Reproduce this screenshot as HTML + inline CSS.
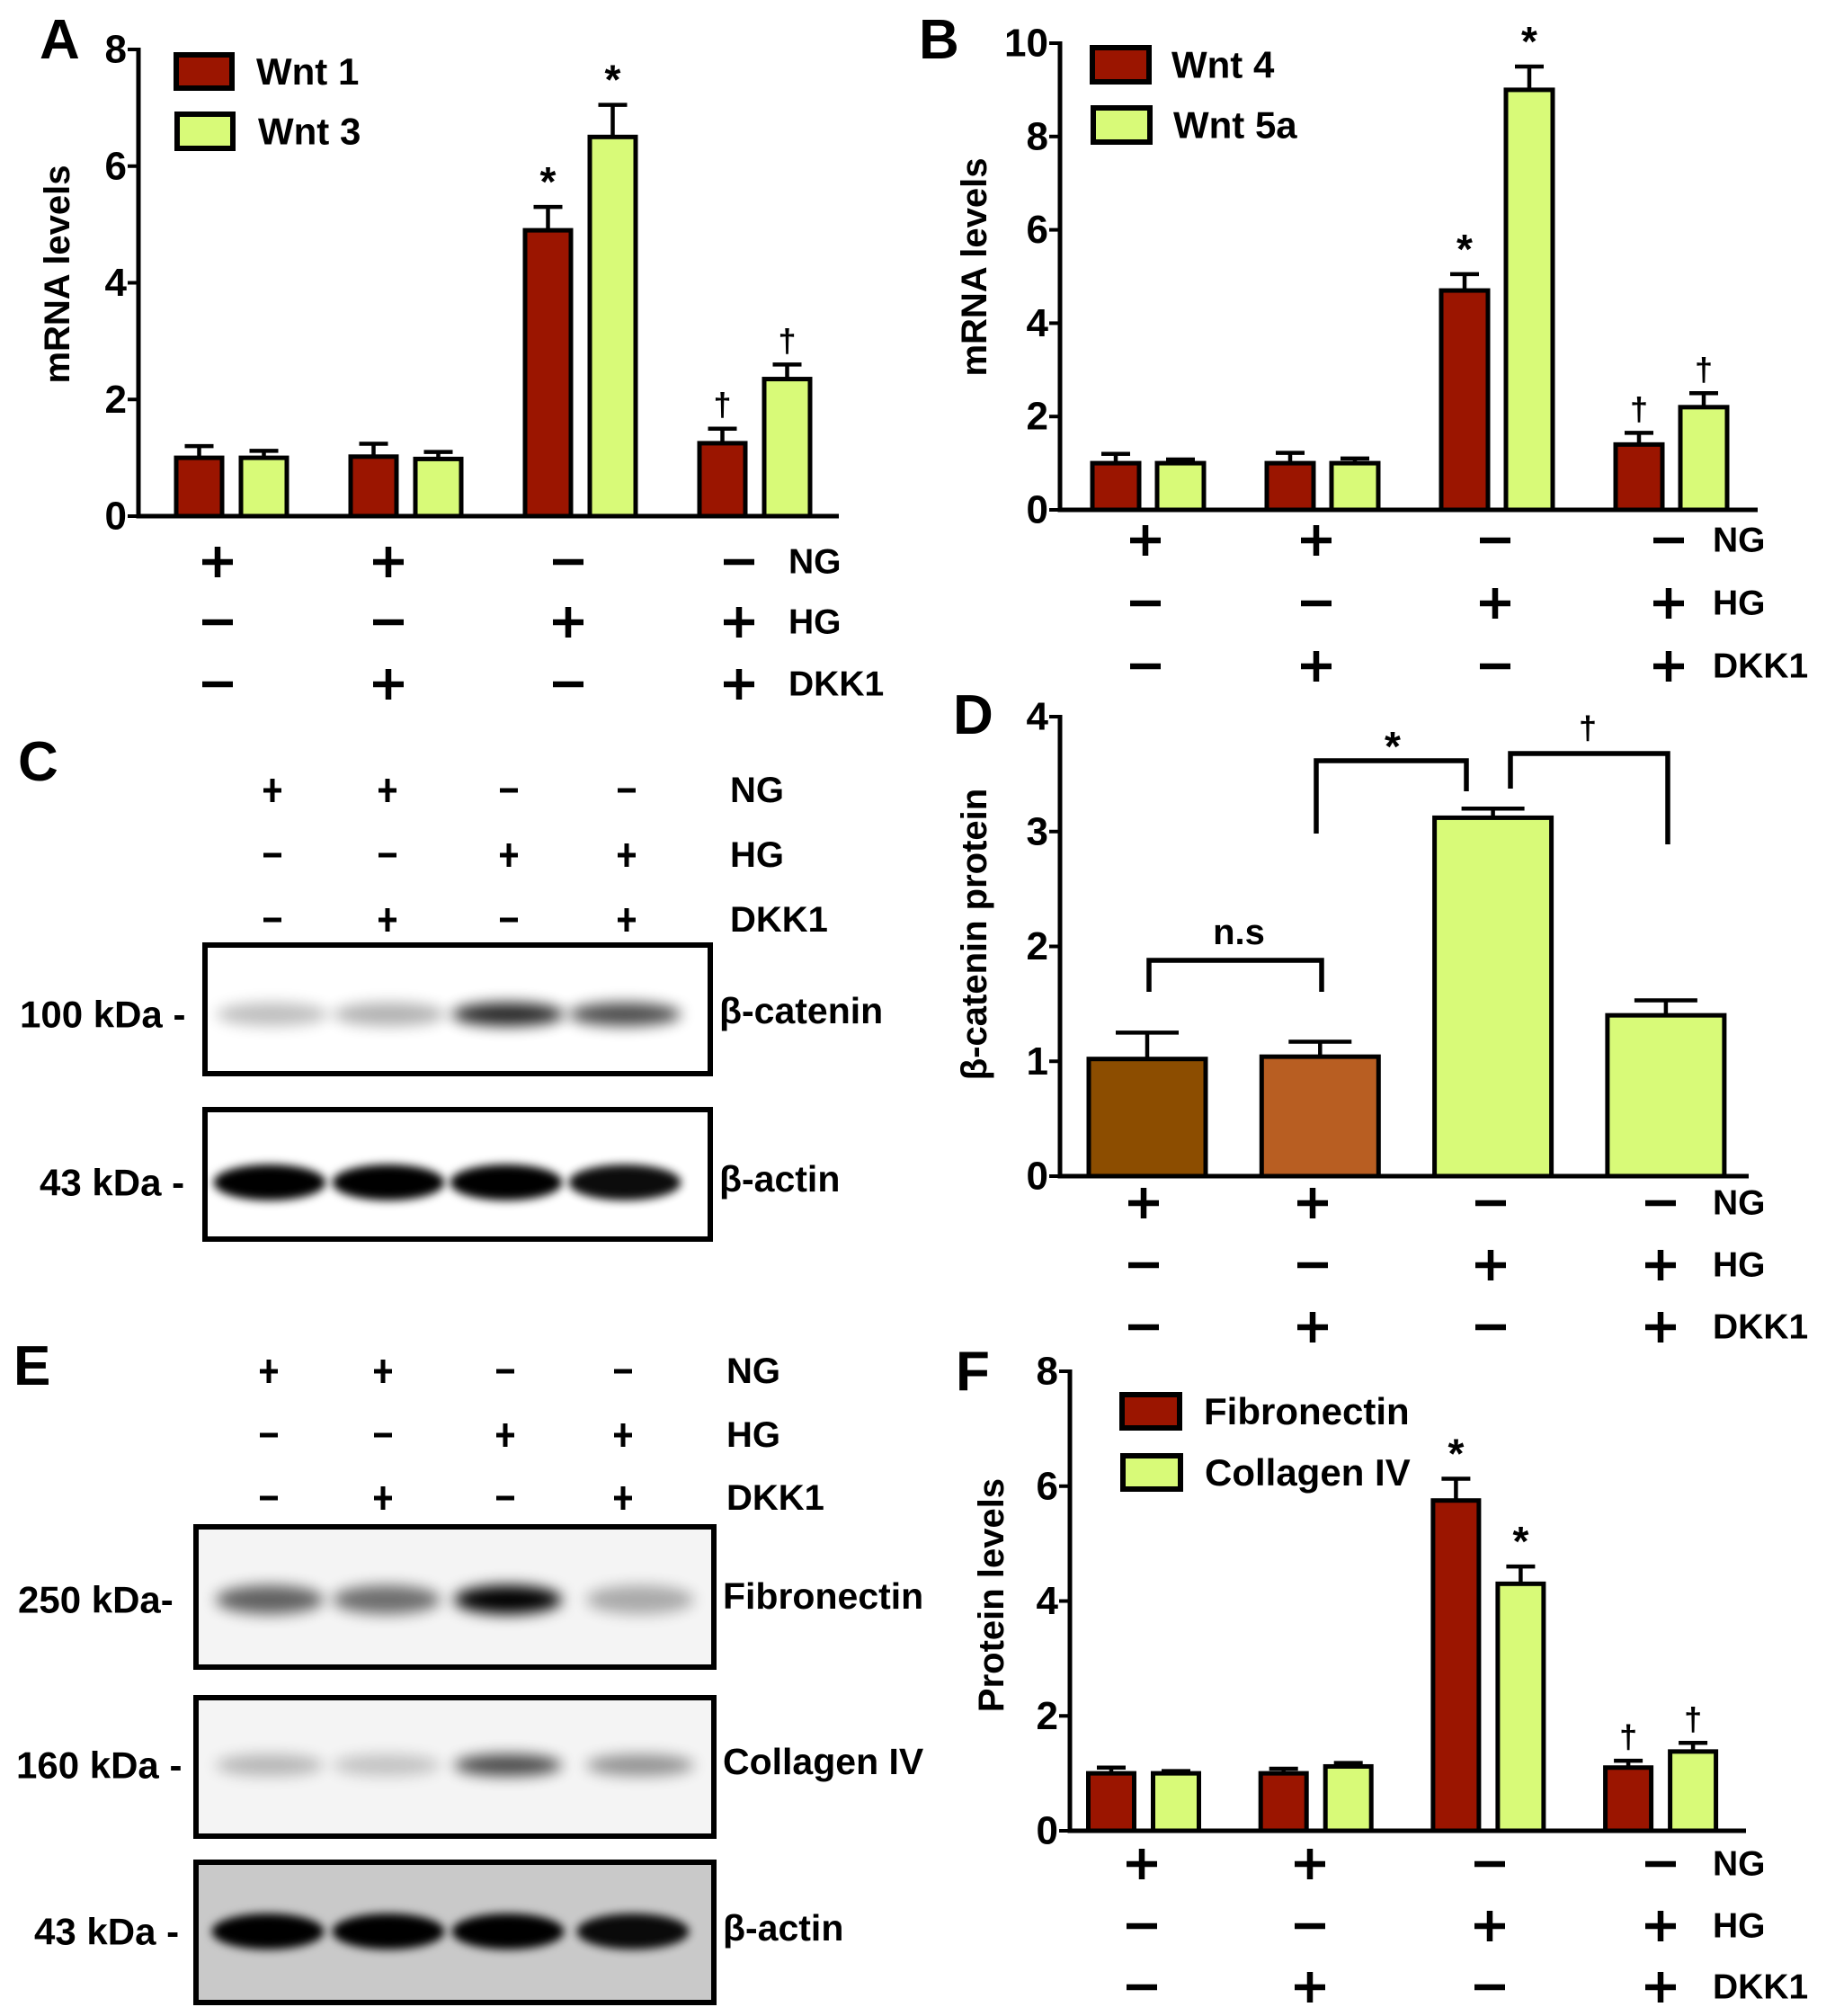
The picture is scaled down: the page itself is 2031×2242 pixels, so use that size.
<!DOCTYPE html>
<html><head><meta charset="utf-8">
<style>
html,body{margin:0;padding:0;background:#fff;}
svg{display:block;font-family:"Liberation Sans",Arial,sans-serif;font-weight:bold;}
</style></head>
<body>
<svg id="fig" width="2031" height="2242" viewBox="0 0 2031 2242" xmlns="http://www.w3.org/2000/svg">
<defs>
<filter id="blur8" x="-50%" y="-100%" width="200%" height="300%"><feGaussianBlur stdDeviation="8"/></filter>
<filter id="blur5" x="-50%" y="-100%" width="200%" height="300%"><feGaussianBlur stdDeviation="5"/></filter>
</defs>
</svg>
<script>
// ---------- DATA ----------
const groupsAll = ["NG", "NG+DKK1", "HG", "HG+DKK1"];
const rowNames = ["NG", "HG", "DKK1"];
const rowNG = ["+", "+", "-", "-"];
const rowHG = ["-", "-", "+", "+"];
const rowDKK = ["-", "+", "-", "+"];

const ticksA = [0, 2, 4, 6, 8];
const wnt1 = [1.0, 1.02, 4.9, 1.25];
const wnt1Err = [0.2, 0.22, 0.4, 0.25];
const wnt1Mark = ["", "", "*", "†"];
const wnt3 = [1.0, 0.98, 6.5, 2.35];
const wnt3Err = [0.12, 0.12, 0.55, 0.25];
const wnt3Mark = ["", "", "*", "†"];

const ticksB = [0, 2, 4, 6, 8, 10];
const wnt4 = [1.0, 1.0, 4.7, 1.4];
const wnt4Err = [0.2, 0.22, 0.35, 0.25];
const wnt4Mark = ["", "", "*", "†"];
const wnt5a = [1.0, 1.0, 9.0, 2.2];
const wnt5aErr = [0.08, 0.1, 0.5, 0.3];
const wnt5aMark = ["", "", "*", "†"];

const ticksD = [0, 1, 2, 3, 4];
const bcat = [1.02, 1.04, 3.12, 1.4];
const bcatErr = [0.23, 0.13, 0.08, 0.13];

const ticksF = [0, 2, 4, 6, 8];
const fib = [1.0, 1.0, 5.75, 1.1];
const fibErr = [0.1, 0.08, 0.38, 0.12];
const fibMark = ["", "", "*", "†"];
const col4 = [1.0, 1.12, 4.3, 1.38];
const col4Err = [0.04, 0.06, 0.3, 0.15];
const col4Mark = ["", "", "*", "†"];

const bandC_bcat = [0.25, 0.3, 0.85, 0.7];
const bandC_actin = [1, 1, 1, 0.95];
const bandE_fib = [0.6, 0.55, 1, 0.3];
const bandE_col = [0.25, 0.2, 0.7, 0.4];
const bandE_actin = [1, 1, 1, 0.95];

// ---------- HELPERS ----------
const NS = "http://www.w3.org/2000/svg";
const svg = document.getElementById("fig");
function mk(tag, attrs, parent, txt) {
  const e = document.createElementNS(NS, tag);
  for (const k in attrs) e.setAttribute(k, attrs[k]);
  if (txt !== undefined) e.textContent = txt;
  (parent || svg).appendChild(e);
  return e;
}
function grp(name) {
  const g = mk("g", {});
  
  
  return g;
}
const RED = "#9b1500", GREEN = "#d8fa78";

function symbol(g, kind, x, y) {
  const s = 17, w = 6.5;
  mk("line", {x1: x - s, y1: y, x2: x + s, y2: y, stroke: "#000", "stroke-width": w}, g);
  if (kind === "+") mk("line", {x1: x, y1: y - s, x2: x, y2: y + s, stroke: "#000", "stroke-width": w}, g);
}

function condRows(name, xs, ys, labelX, size) {
  const g = grp(name);
  const rows = [rowNG, rowHG, rowDKK];
  rows.forEach((row, r) => {
    row.forEach((k, i) => symbol(g, k, xs[i], ys[r]));
    const t = mk("text", {x: labelX, y: ys[r], "font-size": size || 39, "dominant-baseline": "central"}, g, rowNames[r]);
    
    
  });
}

function barChart(c) {
  const g = grp(c.name);
  const yS = v => c.yZero - (v / c.vmax) * (c.yZero - c.yTop);
  const ya = mk("line", {x1: c.x0, y1: c.yTop - 2, x2: c.x0, y2: c.yZero + 2.5, stroke: "#000", "stroke-width": 5}, g);
   
  c.ticks.forEach(t => {
    mk("line", {x1: c.x0 - 12, y1: yS(t), x2: c.x0, y2: yS(t), stroke: "#000", "stroke-width": 4}, g);
    const tl = mk("text", {x: c.x0 - 13, y: yS(t), "font-size": 44, "text-anchor": "end", "dominant-baseline": "central"}, g, String(t));
     
  });
  const yt = mk("text", {x: c.titleX, y: c.titleY, "font-size": 40, "text-anchor": "middle", transform: `rotate(-90 ${c.titleX} ${c.titleY})`, "dominant-baseline": "central"}, g, c.title);
   
  c.series.forEach((s, si) => {
    s.vals.forEach((v, i) => {
      const cx = c.c0 + i * c.spacing + s.off;
      const top = yS(v), errTop = yS(v + s.errs[i]);
      mk("line", {x1: cx, y1: top, x2: cx, y2: errTop, stroke: "#000", "stroke-width": 4.5}, g);
      mk("line", {x1: cx - c.cap / 2, y1: errTop, x2: cx + c.cap / 2, y2: errTop, stroke: "#000", "stroke-width": 4.5}, g);
      const r = mk("rect", {x: cx - c.barW / 2, y: top, width: c.barW, height: c.yZero - top, fill: Array.isArray(s.color) ? s.color[i] : s.color, stroke: "#000", "stroke-width": 5}, g);
      
      
      if (s.marks && s.marks[i]) {
        const star = s.marks[i] === "*";
        const m = mk("text", {x: cx, y: errTop - (star ? 12 : 14), "font-size": star ? 46 : 36, "text-anchor": "middle"}, g, s.marks[i]);
         
      }
    });
  });
  const xa = mk("line", {x1: c.x0 - 2, y1: c.yZero, x2: c.xEnd, y2: c.yZero, stroke: "#000", "stroke-width": 5}, g);
   
  if (c.legend) c.legend.forEach((L, i) => {
    const lg = mk("g", {}, g);
     
    mk("rect", {x: L.x, y: L.y, width: L.w, height: L.h, fill: L.color, stroke: "#000", "stroke-width": 6}, lg);
    mk("text", {x: L.tx, y: L.y + L.h / 2, "font-size": 42, "dominant-baseline": "central"}, lg, L.label);
  });
  return yS;
}

function letter(ch, x, y) {
  const t = mk("text", {x: x, y: y, "font-size": 62}, svg, ch);
  
  
}

// ---------- PANEL A ----------
letter("A", 44, 65);
barChart({name: "panel-a-chart", x0: 154, yZero: 574, yTop: 55, vmax: 8, xEnd: 933, ticks: ticksA,
  c0: 257.5, spacing: 194, barW: 51, cap: 32, title: "mRNA levels", titleX: 64, titleY: 305,
  series: [{key: "wnt1", vals: wnt1, errs: wnt1Err, marks: wnt1Mark, color: RED, off: -36},
           {key: "wnt3", vals: wnt3, errs: wnt3Err, marks: wnt3Mark, color: GREEN, off: 36}],
  legend: [{key: "wnt1", x: 196, y: 61, w: 62, h: 37, color: RED, tx: 285, label: "Wnt 1"},
           {key: "wnt3", x: 197, y: 127, w: 62, h: 38, color: GREEN, tx: 287, label: "Wnt 3"}]});
condRows("panel-a-conditions", [242, 432, 632, 822], [625, 692, 761], 877);

// ---------- PANEL B ----------
letter("B", 1022, 65);
barChart({name: "panel-b-chart", x0: 1179, yZero: 567, yTop: 48, vmax: 10, xEnd: 1955, ticks: ticksB,
  c0: 1277, spacing: 194, barW: 52, cap: 32, title: "mRNA levels", titleX: 1084, titleY: 297,
  series: [{key: "wnt4", vals: wnt4, errs: wnt4Err, marks: wnt4Mark, color: RED, off: -36},
           {key: "wnt5a", vals: wnt5a, errs: wnt5aErr, marks: wnt5aMark, color: GREEN, off: 36}],
  legend: [{key: "wnt4", x: 1215, y: 53, w: 63, h: 38, color: RED, tx: 1303, label: "Wnt 4"},
           {key: "wnt5a", x: 1216, y: 120, w: 63, h: 38, color: GREEN, tx: 1305, label: "Wnt 5a"}]});
condRows("panel-b-conditions", [1274, 1464, 1663, 1856], [601, 671, 741], 1905);

// ---------- PANEL D ----------
letter("D", 1060, 816);
barChart({name: "panel-d-chart", x0: 1179, yZero: 1308, yTop: 797, vmax: 4, xEnd: 1945, ticks: ticksD,
  c0: 1276, spacing: 192.3, barW: 130, cap: 70, title: "β-catenin protein", titleX: 1084, titleY: 1039,
  series: [{key: "beta-catenin", vals: bcat, errs: bcatErr, color: ["#8c4d00", "#b85e22", GREEN, GREEN], off: 0}]});
(function () {
  const g = grp("panel-d-brackets");
  const br = (pts) => mk("polyline", {points: pts, fill: "none", stroke: "#000", "stroke-width": 5.5}, g);
  br("1278,1103 1278,1068 1470,1068 1470,1103");
  br("1464,927 1464,846 1631,846 1631,880");
  br("1680,877 1680,838 1855,838 1855,939");
  mk("text", {x: 1378, y: 1050, "font-size": 40, "text-anchor": "middle"}, g, "n.s");
  mk("text", {x: 1549, y: 846, "font-size": 46, "text-anchor": "middle"}, g, "*");
  mk("text", {x: 1766, y: 822, "font-size": 36, "text-anchor": "middle"}, g, "†");
})();
condRows("panel-d-conditions", [1272, 1460, 1658, 1847], [1338, 1407, 1476], 1905);

// ---------- PANEL F ----------
letter("F", 1063, 1546);
barChart({name: "panel-f-chart", x0: 1190, yZero: 2036, yTop: 1525, vmax: 8, xEnd: 1942, ticks: ticksF,
  c0: 1272, spacing: 191.7, barW: 51, cap: 32, title: "Protein levels", titleX: 1103, titleY: 1774,
  series: [{key: "fibronectin", vals: fib, errs: fibErr, marks: fibMark, color: RED, off: -36},
           {key: "collagen-iv", vals: col4, errs: col4Err, marks: col4Mark, color: GREEN, off: 36}],
  legend: [{key: "fibronectin", x: 1248, y: 1551, w: 64, h: 37, color: RED, tx: 1339, label: "Fibronectin"},
           {key: "collagen-iv", x: 1249, y: 1619, w: 64, h: 37, color: GREEN, tx: 1340, label: "Collagen IV"}]});
condRows("panel-f-conditions", [1270, 1457, 1657, 1847], [2073, 2142, 2210], 1905);

// ---------- BLOTS ----------
function blot(name, x, y, w, h, bg, lanes, bandY, bandW, bandH, intens, blurId, left, leftX, right) {
  const g = grp(name);
  mk("rect", {x: x, y: y, width: w, height: h, fill: bg}, g);
  intens.forEach((v, i) => {
    const b = mk("ellipse", {cx: lanes[i], cy: bandY, rx: bandW / 2, ry: bandH / 2, fill: "#000", opacity: v, filter: `url(#${blurId})`}, g);
    
    
  });
  mk("rect", {x: x, y: y, width: w, height: h, fill: "none", stroke: "#000", "stroke-width": 6}, g);
  mk("text", {x: leftX, y: bandY, "font-size": 42, "dominant-baseline": "central"}, g, left);
  mk("text", {x: x + w + 10, y: bandY - 4, "font-size": 41, "dominant-baseline": "central"}, g, right);
}
function topRows(name, xs, ys, labelX) {
  const g = grp(name);
  [rowNG, rowHG, rowDKK].forEach((row, r) => {
    row.forEach((k, i) => {
      const s = 10, w = 5, x = xs[i], y = ys[r];
      mk("line", {x1: x - s, y1: y, x2: x + s, y2: y, stroke: "#000", "stroke-width": w}, g);
      if (k === "+") mk("line", {x1: x, y1: y - 13, x2: x, y2: y + 13, stroke: "#000", "stroke-width": w}, g);
    });
    mk("text", {x: labelX, y: ys[r], "font-size": 40, "dominant-baseline": "central"}, g, rowNames[r]);
  });
}

// Panel C
letter("C", 20, 868);
topRows("panel-c-conditions", [303, 431, 566, 697], [879, 951, 1023], 812);
blot("panel-c-beta-catenin-blot", 228, 1051, 562, 143, "#fff", [303, 433, 565, 695], 1128, 125, 26, bandC_bcat, "blur8", "100 kDa -", 22, "β-catenin");
blot("panel-c-beta-actin-blot", 228, 1234, 562, 144, "#fff", [300, 432, 563, 695], 1315, 125, 40, bandC_actin, "blur5", "43 kDa -", 44, "β-actin");

// Panel E
letter("E", 15, 1540);
topRows("panel-e-conditions", [299, 426, 562, 693], [1525, 1596, 1666], 808);
blot("panel-e-fibronectin-blot", 218, 1698, 576, 156, "#f4f4f4", [300, 430, 565, 712], 1779, 120, 32, bandE_fib, "blur8", "250 kDa-", 20, "Fibronectin");
blot("panel-e-collagen-blot", 218, 1888, 576, 154, "#f4f4f4", [300, 430, 565, 712], 1963, 120, 24, bandE_col, "blur8", "160 kDa -", 18, "Collagen IV");
blot("panel-e-beta-actin-blot", 218, 2071, 576, 156, "#c9c9c9", [298, 432, 565, 704], 2148, 125, 40, bandE_actin, "blur5", "43 kDa -", 38, "β-actin");
</script>
</body></html>
